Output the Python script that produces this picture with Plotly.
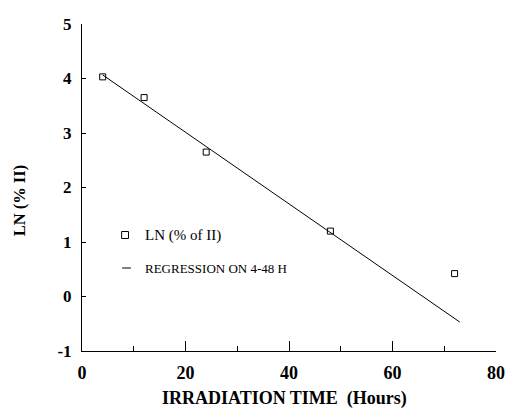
import numpy as np
import plotly.graph_objects as go

# Data
hours = [4, 12, 24, 48, 72]
ln_pct = [4.03, 3.65, 2.65, 1.20, 0.42]

# Regression on the 4-48 h points
fit_x = [h for h in hours if h <= 48]
fit_y = [v for h, v in zip(hours, ln_pct) if h <= 48]
slope, intercept = np.polyfit(fit_x, fit_y, 1)
reg_x = [4, 73]
reg_y = [slope * x + intercept for x in reg_x]

x_ticks = [0, 20, 40, 60, 80]
y_ticks = [-1, 0, 1, 2, 3, 4, 5]
y_tick_text = ["-1", "0", "1", "2", "3", "4", "5"]
legend_labels = ["LN (% of II)", "REGRESSION ON 4-48 H"]

serif = "Liberation Serif, Times New Roman, serif"

# plot area in pixels
L, R, T, B = 82, 505, 24, 351
W, H = R - L, B - T


def px(xp):
    return (xp - L) / W


def py(yp):
    return (B - yp) / H


fig = go.Figure()
fig.add_trace(go.Scatter(
    x=hours, y=ln_pct, mode="markers", name=legend_labels[0],
    marker=dict(symbol="square-open", size=6, color="black", line=dict(width=1)),
    showlegend=False,
))
fig.add_trace(go.Scatter(
    x=reg_x, y=reg_y, mode="lines", name=legend_labels[1],
    line=dict(color="black", width=1),
    showlegend=False,
))

shapes = [
    # legend glyphs
    dict(type="rect", xref="paper", yref="paper",
         x0=px(122.5), x1=px(129.5), y0=py(238.5), y1=py(231.5),
         line=dict(color="black", width=1)),
    dict(type="line", xref="paper", yref="paper",
         x0=px(123), x1=px(132), y0=py(268), y1=py(268),
         line=dict(color="black", width=1)),
]

annotations = [
    dict(text=legend_labels[0], xref="paper", yref="paper", x=px(144), y=py(235),
         xanchor="left", yanchor="middle", showarrow=False,
         font=dict(family=serif, size=15, color="black")),
    dict(text=legend_labels[1], xref="paper", yref="paper", x=px(144), y=py(268),
         xanchor="left", yanchor="middle", showarrow=False,
         font=dict(family=serif, size=13, color="black")),
    dict(text="<b>IRRADIATION TIME  (Hours)</b>", xref="paper", yref="paper",
         x=px(289), y=py(398), xanchor="center", yanchor="middle", showarrow=False,
         font=dict(family=serif, size=18, color="black")),
    dict(text="<b>LN (% II)</b>", xref="paper", yref="paper", textangle=-90,
         x=px(19), y=py(200), xanchor="center", yanchor="middle", showarrow=False,
         font=dict(family=serif, size=16.5, color="black")),
]

fig.update_layout(
    width=514, height=410,
    margin=dict(l=L, r=514 - R, t=T, b=410 - B),
    paper_bgcolor="white", plot_bgcolor="white",
    font=dict(family=serif, color="black"),
    showlegend=False,
    shapes=shapes,
    annotations=annotations,
    xaxis=dict(
        range=[0, 80], tickvals=x_ticks, ticktext=[str(v) for v in x_ticks],
        showgrid=False, zeroline=False, showline=True, linecolor="black", linewidth=1,
        ticks="inside", ticklen=10, tickcolor="black",
        minor=dict(ticks="inside", ticklen=5, dtick=10, tickcolor="black"),
        tickfont=dict(family=serif, size=18, weight="bold"),
        ticklabelstandoff=5,
    ),
    yaxis=dict(
        range=[-1, 5], tickvals=y_ticks, ticktext=y_tick_text,
        showgrid=False, zeroline=False, showline=True, linecolor="black", linewidth=1,
        ticks="inside", ticklen=4, tickcolor="black",
        tickfont=dict(family=serif, size=17, weight="bold"),
        ticklabelstandoff=6,
    ),
)

fig.write_html("out.html")
